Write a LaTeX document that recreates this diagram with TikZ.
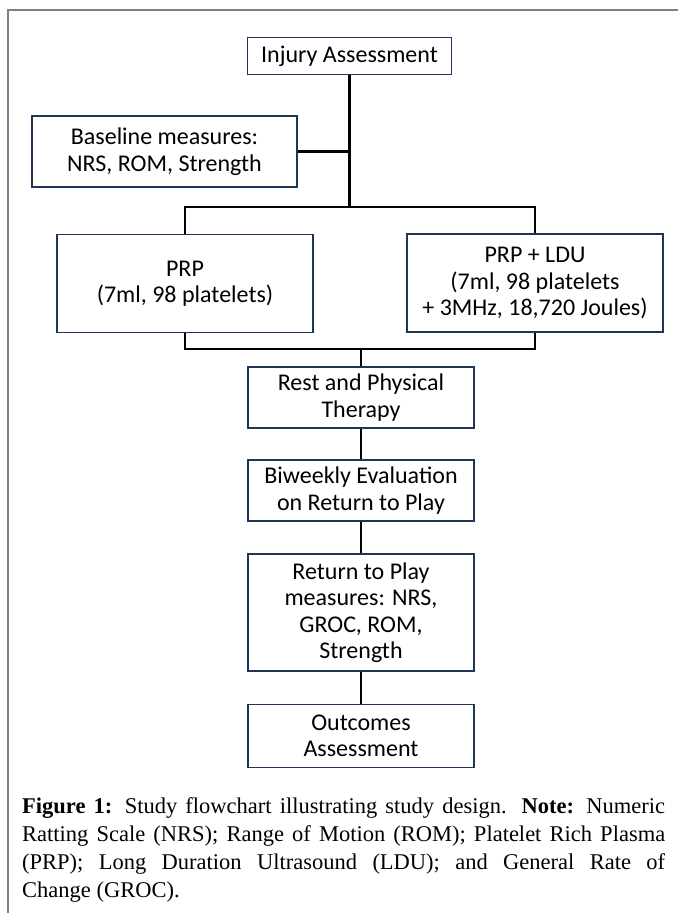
\documentclass[tikz,border=0pt]{standalone}
\usepackage{fontspec}
\setmainfont{Liberation Serif}
\newfontfamily\boxfont{Carlito}
\definecolor{boxnavy}{HTML}{1F3558}
\definecolor{framegray}{HTML}{7F7F7F}
\begin{document}
\begin{tikzpicture}[x=1pt,y=-1pt,
  fbox/.style={draw=boxnavy, line width=1.8pt, align=center, inner sep=0pt,
    font=\boxfont\fontsize{24}{26.5}\selectfont},
  link/.style={draw=black, line width=2.2pt}]
\useasboundingbox (0,0) rectangle (678,913);
\draw[framegray, line width=2pt] (8,913) -- (8,10) -- (678,10);

\node[fbox, minimum width=204pt, minimum height=37pt] (inj) at (349.5,56) {Injury Assessment};
\node[fbox, minimum width=265pt, minimum height=71pt] (base) at (164.5,151.5) {Baseline measures:\\NRS, ROM, Strength};
\node[fbox, minimum width=256pt, minimum height=98pt] (prp) at (185,283.5) {PRP\\(7ml, 98 platelets)};
\node[fbox, minimum width=256pt, minimum height=98pt] (ldu) at (535,283) {PRP + LDU\\(7ml, 98 platelets\\+ 3MHz, 18,720 Joules)};
\node[fbox, minimum width=226pt, minimum height=61pt] (rest) at (361,397.5) {Rest and Physical\\Therapy};
\node[fbox, minimum width=226pt, minimum height=61pt] (biw) at (361,490.5) {Biweekly Evaluation\\on Return to Play};
\node[fbox, minimum width=226pt, minimum height=117pt] (rtp) at (361,612.5) {Return to Play\\measures: NRS,\\GROC, ROM,\\Strength};
\node[fbox, minimum width=226pt, minimum height=63pt] (out) at (361,736) {Outcomes\\Assessment};

\coordinate (split) at (349.5,207);
\coordinate (merge) at (361,349);

\draw[link] (inj.south) -- (split);
\draw[link] (base.east) -- (base.east -| split);
\draw[link] (prp.north) |- (split) -| (ldu.north);
\draw[link] (prp.south) |- (merge) -| (ldu.south);
\draw[link] (merge) -- (rest.north);
\draw[link] (rest.south) -- (biw.north);
\draw[link] (biw.south) -- (rtp.north);
\draw[link] (rtp.south) -- (out.north);

\node[anchor=north west, inner sep=0pt, text width=643pt, align=justify,
  font=\fontsize{22.5}{28}\selectfont] (cap) at (22,797)
  {\textbf{Figure 1:} Study flowchart illustrating study design. \textbf{Note:} Numeric\linebreak
   Ratting Scale (NRS); Range of Motion (ROM); Platelet Rich Plasma\linebreak
   (PRP); Long Duration Ultrasound (LDU); and General Rate of\linebreak
   Change (GROC).};
\end{tikzpicture}
\end{document}
